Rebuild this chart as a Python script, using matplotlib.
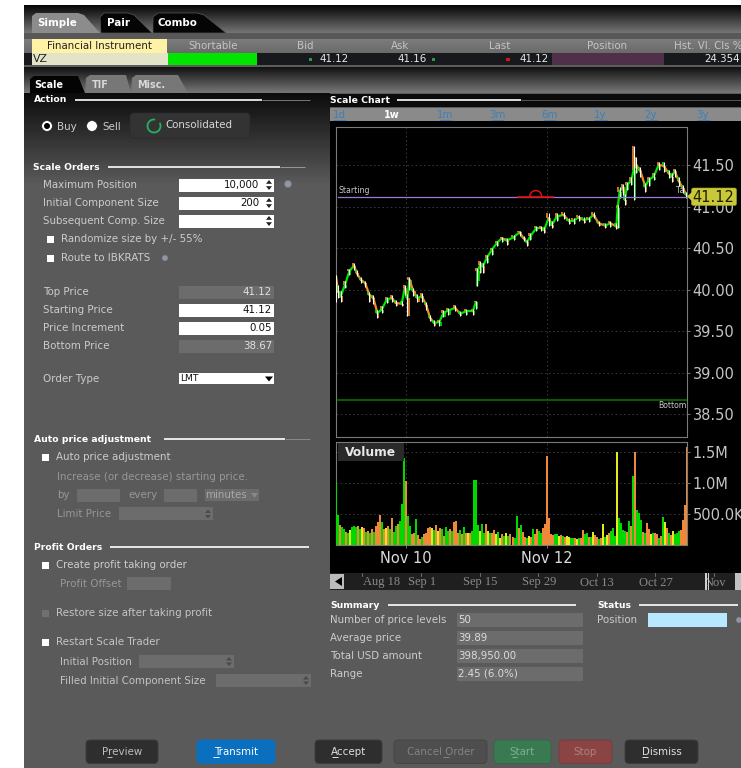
import numpy as np
import matplotlib
matplotlib.use("Agg")
import matplotlib.pyplot as plt
from matplotlib.patches import Rectangle, FancyBboxPatch, Polygon, Circle, Arc
from matplotlib.colors import LinearSegmentedColormap

# ---------- data ----------
price_days = [9.000,9.029,9.067,9.128,9.190,9.257,9.295,9.352,9.414,9.475,9.532,9.589,9.651,9.722,9.794,9.851,9.936,9.979,
 10.017,10.046,10.103,10.160,10.222,10.283,10.340,10.397,10.473,10.530,10.602,10.697,10.768,10.854,10.949,10.992,
 11.011,11.015,11.053,11.091,11.148,11.220,11.291,11.362,11.434,11.529,11.614,11.671,11.719,11.766,11.852,11.918,11.966,
 12.028,12.075,12.146,12.241,12.313,12.384,12.455,12.527,12.598,12.669,12.741,12.836,12.907,12.993,
 13.012,13.040,13.088,13.116,13.145,13.206,13.240,13.278,13.335,13.406,13.454,13.525,13.596,13.667,13.739,13.786,13.824,13.881,13.943,13.990]
price_close = [40.16,39.98,39.92,40.06,40.22,40.29,40.20,40.12,40.08,39.94,39.90,39.72,39.76,39.88,39.90,39.84,39.83,40.02,
 39.90,40.12,39.98,39.90,39.92,39.82,39.66,39.60,39.61,39.72,39.75,39.78,39.71,39.74,39.74,39.85,
 40.05,40.22,40.30,40.28,40.38,40.48,40.56,40.62,40.59,40.63,40.69,40.62,40.57,40.64,40.74,40.74,40.72,
 40.86,40.78,40.88,40.90,40.83,40.83,40.87,40.84,40.85,40.90,40.80,40.77,40.80,40.76,
 40.98,41.18,41.24,41.08,41.26,41.31,41.44,41.50,41.43,41.24,41.32,41.36,41.50,41.49,41.40,41.36,41.43,41.31,41.22,41.14]
price_high = [40.18,40.05,39.98,40.10,40.25,40.32,40.24,40.15,40.10,39.97,39.94,39.76,39.80,39.91,39.93,39.87,39.86,40.05,
 39.95,40.15,40.02,39.95,39.96,39.85,39.69,39.63,39.64,39.75,39.78,39.81,39.74,39.77,39.77,39.86,
 40.10,40.26,40.34,40.32,40.42,40.50,40.58,40.63,40.62,40.66,40.70,40.65,40.60,40.68,40.77,40.77,40.75,
 40.92,40.82,40.92,40.93,40.86,40.86,40.90,40.87,40.88,40.93,40.83,40.80,40.83,40.80,
 41.02,41.23,41.27,41.15,41.30,41.36,41.73,41.60,41.47,41.28,41.35,41.40,41.53,41.53,41.44,41.40,41.45,41.35,41.26,41.18]
price_low = [39.85,39.90,39.85,40.02,40.18,40.24,40.16,40.08,40.03,39.85,39.83,39.66,39.72,39.84,39.85,39.80,39.80,39.94,
 39.68,40.00,39.92,39.85,39.85,39.76,39.62,39.56,39.56,39.67,39.70,39.74,39.68,39.70,39.70,39.77,
 40.04,40.10,40.20,40.20,40.32,40.42,40.52,40.57,40.54,40.60,40.64,40.58,40.52,40.60,40.70,40.70,40.68,
 40.76,40.74,40.82,40.85,40.79,40.79,40.82,40.80,40.81,40.86,40.76,40.74,40.75,40.73,
 40.74,41.10,41.14,41.02,41.20,41.26,41.08,41.40,41.36,41.18,41.25,41.32,41.44,41.42,41.34,41.30,41.36,41.25,41.16,41.10]

volume_k = [1000,480,320,290,250,210,190,240,290,300,
 290,300,250,290,280,210,230,190,250,210,
 300,370,480,370,260,280,300,260,430,210,
 300,340,390,660,1390,1020,465,300,180,190,
 410,160,100,130,170,190,270,290,280,240,
 320,220,280,260,150,290,220,260,230,370,
 380,200,240,180,290,190,190,200,220,1040,
 1040,320,220,340,190,340,220,200,200,240,
 180,210,120,170,140,200,150,170,130,110,
 465,280,320,210,130,120,150,130,260,180,
 260,230,200,270,340,1430,430,170,160,180,
 170,150,160,150,130,150,130,120,110,110,
 100,110,120,240,170,190,130,130,210,160,
 130,90,120,330,130,160,190,230,270,140,
 1490,430,360,240,220,210,380,300,1100,1500,
 560,520,400,210,190,350,250,180,200,190,
 180,120,140,450,370,280,200,160,230,180,
 190,230,240,400,640,1580]
volume_kind = ("ggoggogygg" "gogyogogog" "ooogoyogog" "gogggoggoo" "googooooyg"
               "oyogoggogo" "oogogoyogg" "ggyggoygoo" "ygyogygoog" "gogoogyogo"
               "oggoooooog" "gyogoyyggo" "ygooggogyo" "ogoygyoggg" "yggggogogo"
               "gggogooygo" "ogogyogoyg" "ggoooo")

price_ticks = [38.5, 39.0, 39.5, 40.0, 40.5, 41.0, 41.5]
price_tick_labels = ["38.50", "39.00", "39.50", "40.00", "40.50", "41.00", "41.50"]
vol_ticks = [500, 1000, 1500]
vol_tick_labels = ["500.0K", "1.0M", "1.5M"]
day_ticks = [10, 12]
day_labels = ["Nov 10", "Nov 12"]
starting_price = 41.12
bottom_price = 38.67

periods = ["1d", "1w", "1m", "3m", "6m", "1y", "2y", "3y"]
nav_labels = ["Aug 18", "Sep 1", "Sep 15", "Sep 29", "Oct 13", "Oct 27", "Nov"]
header_cols = ["Shortable", "Bid", "Ask", "Last", "Position", "Hst. Vl. Cls %"]

# ---------- helpers ----------
W, H = 741, 768
fig = plt.figure(figsize=(W/100, H/100), dpi=100, facecolor="white")
ui = fig.add_axes([0, 0, 1, 1], zorder=0)
ui.set_xlim(0, W); ui.set_ylim(H, 0); ui.axis("off"); ui.set_autoscale_on(False)

BODY = "#5a5a5a"; LBL = "#cccccc"; DIM = "#979797"; FIELD = "#6c6c6c"; FS = 7.4

def R(x0, y0, x1, y1, c, z=1, **k):
    ui.add_patch(Rectangle((x0, y0), x1-x0, y1-y0, fc=c, ec=k.pop("ec", "none"), lw=k.pop("lw", 0), zorder=z, **k))

def G(x0, y0, x1, y1, c0, c1, z=1):
    cm = LinearSegmentedColormap.from_list("g", [c0, c1])
    ui.imshow(np.linspace(0, 1, 64)[:, None], extent=(x0, x1, y1, y0), cmap=cm, aspect="auto", zorder=z, vmin=0, vmax=1)

def T(x, y, s, size=FS, c=LBL, ha="left", w="normal", fam="DejaVu Sans", z=6, **k):
    return ui.text(x, y, s, fontsize=size, color=c, ha=ha, va="center", weight=w, family=fam, zorder=z, **k)

def L(x0, x1, y, c="white", lw=1.0, z=4):
    ui.plot([x0, x1], [y, y], color=c, lw=lw, zorder=z, solid_capstyle="butt")

def spinner(x, y):
    ui.add_patch(Polygon([[x-3, y-1.2], [x+3, y-1.2], [x, y-5]], fc="#222", zorder=6))
    ui.add_patch(Polygon([[x-3, y+1.2], [x+3, y+1.2], [x, y+5]], fc="#222", zorder=6))

def spinner_dim(x, y):
    ui.add_patch(Polygon([[x-3, y-1], [x+3, y-1], [x, y-4.5]], fc="#4a4a4a", zorder=6))
    ui.add_patch(Polygon([[x-3, y+1], [x+3, y+1], [x, y+4.5]], fc="#4a4a4a", zorder=6))

def check(x, y, c="white"):
    R(x-3.5, y-3.5, x+3.5, y+3.5, c, z=5)

def dot(x, y, r=3.6, c="#8d97a5"):
    ui.add_patch(Circle((x, y), r, fc=c, ec="#6d6d6d", lw=0.4, zorder=6))

def button(x0, x1, c, label, tc, ul=None, ec="#3c3c3c", y0=740, y1=763.5):
    ui.add_patch(FancyBboxPatch((x0+3, y0+3), x1-x0-6, y1-y0-6, boxstyle="round,pad=3,rounding_size=4", fc=c, ec=ec, lw=0.6, zorder=3))
    T((x0+x1)/2, 752, label, c=tc, ha="center")
    if ul:
        L(ul[0], ul[1], 756.8, c=tc, lw=0.7, z=6)

# ---------- panel background ----------
R(24, 5, W, H, BODY, z=0.5)
G(24, 5, W, 33, "#050505", "#757575")
R(24, 33, W, 39, "#585858")
G(24, 66, W, 93, "#0e0e0e", "#777777")
G(24, 93, 330, 185, "#0c0c0c", BODY)

# top tabs
ui.add_patch(Polygon([[32, 33], [32, 16], [36, 13], [78, 13], [84, 15], [100, 33]], fc="#8c8c8c", zorder=2))
ui.add_patch(Polygon([[101, 33], [100, 17], [104, 13], [128, 13], [134, 15], [152, 33]], fc="#050505", ec="#555", lw=0.5, zorder=2))
ui.add_patch(Polygon([[153, 33], [153, 17], [158, 13], [197, 13], [204, 15], [226, 33]], fc="#050505", ec="#555", lw=0.5, zorder=2))
T(37, 23, "Simple", size=7.4, w="bold", c="white")
T(107, 23, "Pair", size=7.4, w="bold", c="white")
T(158, 23, "Combo", size=7.4, w="bold", c="white")

# instrument table
G(24, 39, W, 53, "#7c7c7c", "#6a6a6a", z=1.2)
R(32, 39, 167, 53, "#fdf2a6", z=2)
T(99.5, 46, "Financial Instrument", c="#222", ha="center")
col_x = [213, 305, 400, 500, 607, 708]
for x, s in zip(col_x, header_cols):
    T(x, 46, s, ha="center", c="#c4c4c4")
R(24, 53, W, 65, "#17191c", z=2)
R(24, 65, W, 66.5, "#5c5c5c", z=2)
R(32, 53, 168, 65, "#e3e3c8", z=3)
R(168, 53, 257, 65, "#00e400", z=3)
R(552, 53, 664, 65, "#4f3048", z=3)
T(33, 59.5, "VZ", c="#222", size=7.8)
for x, s in zip([349, 427, 549, 740], ["41.12", "41.16", "41.12", "24.354"]):
    T(x, 59.5, s, c="#e8e8e8", ha="right")
R(309, 58, 312, 61, "#2f9a4a", z=5); R(432, 58, 435, 61, "#2f9a4a", z=5); R(506, 58, 510, 61, "#d01818", z=5)

# order tabs
ui.add_patch(Polygon([[30, 93], [30, 79], [34, 76], [78, 76], [85, 93]], fc="#040404", zorder=2))
ui.add_patch(Polygon([[85, 93], [86, 78], [90, 75], [126, 75], [131, 93]], fc="#777777", zorder=2))
ui.add_patch(Polygon([[131, 93], [132, 78], [136, 75], [178, 75], [188, 93]], fc="#777777", zorder=2))
T(34, 85, "Scale", size=6.9, w="bold", c="white")
T(92, 85, "TIF", size=6.9, w="bold", c="#d8d8d8")
T(137, 85, "Misc.", size=6.9, w="bold", c="#d8d8d8")

def section(x, y, s, lx0, lx1):
    T(x, y, s, size=6.7, w="bold", c="white")
    L(lx0, lx1, y, lw=1.2)

# left column
section(34, 100, "Action", 75, 262); L(262, 310, 100, c="#777", lw=0.7)
ui.add_patch(Circle((47, 126), 5.4, fc="white", ec="#222", lw=0.5, zorder=5))
ui.add_patch(Circle((47, 126), 3.0, fc="black", zorder=6))
T(57, 126.5, "Buy")
ui.add_patch(Circle((92, 126), 5.4, fc="white", ec="#222", lw=0.5, zorder=5))
T(102, 126.5, "Sell")
ui.add_patch(FancyBboxPatch((133, 116), 114, 19, boxstyle="round,pad=3,rounding_size=4", fc="#333333", ec="#2a2a2a", lw=0.5, zorder=3))
ui.add_patch(Arc((154, 126), 13, 13, theta1=-30, theta2=280, color="#28b060", lw=1.3, zorder=5))
T(165, 125.5, "Consolidated", c="#d8d8d8")

section(33, 167, "Scale Orders", 108, 280); L(280, 305, 167, c="#999", lw=0.7)
for y, s in [(185, "Maximum Position"), (203, "Initial Component Size"), (221, "Subsequent Comp. Size")]:
    T(43, y, s)
for y, v in [(185, "10,000"), (203, "200"), (221, "")]:
    R(179, y-6.5, 274, y+6.5, "white", z=3)
    T(259, y, v, c="#111", ha="right")
    spinner(269, y)
dot(288, 184)
check(50, 239); T(61, 239, "Randomize size by +/- 55%")
check(50, 258); T(61, 258, "Route to IBKRATS"); dot(165, 258, r=3)

fields = [(292, "Top Price", "41.12", FIELD, "#e0e0e0"), (310, "Starting Price", "41.12", "white", "#111"),
          (328, "Price Increment", "0.05", "white", "#111"), (346, "Bottom Price", "38.67", FIELD, "#e0e0e0")]
for y, s, v, fc, tc in fields:
    T(43, y, s)
    R(179, y-6.5, 274, y+6.5, fc, z=3)
    T(272, y, v, c=tc, ha="right")
T(43, 379, "Order Type")
R(179, 373, 274, 384, "white", z=3)
T(180, 378.5, "LMT", c="#111", size=6.6)
ui.add_patch(Polygon([[265, 376.5], [273, 376.5], [269, 381.5]], fc="black", zorder=6))

section(34, 439, "Auto price adjustment", 164, 285); L(285, 310, 439, c="#888", lw=0.7)
check(45, 457); T(56, 457, "Auto price adjustment")
T(57, 477, "Increase (or decrease) starting price.", c=DIM)
T(57, 495.5, "by", c=DIM); R(77, 489, 120, 502, FIELD, z=3)
T(128, 495.5, "every", c=DIM); R(164, 489, 197, 502, FIELD, z=3)
R(205, 489, 259, 501, FIELD, z=3); T(205, 494.5, "minutes", c="#a8a8a8")
ui.add_patch(Polygon([[251, 493], [258, 493], [254.5, 498]], fc="#888", zorder=6))
T(57, 514, "Limit Price", c=DIM); R(119, 507, 213, 520, FIELD, z=3); spinner_dim(208, 514)

section(34, 547, "Profit Orders", 110, 309)
check(45, 565); T(56, 565, "Create profit taking order")
T(60, 584, "Profit Offset", c=DIM); R(127, 577, 171, 590, FIELD, z=3)
check(45, 613, c="#707070"); T(56, 613, "Restore size after taking profit", c="#c4c4c4")
check(45, 642); T(56, 642, "Restart Scale Trader", c="#c4c4c4")
T(60, 662, "Initial Position", c="#c4c4c4"); R(139, 655, 234, 668, FIELD, z=3); spinner_dim(229, 661.5)
T(60, 681, "Filled Initial Component Size", c="#c4c4c4"); R(216, 674, 311, 687, FIELD, z=3); spinner_dim(306, 680.5)

# bottom buttons
button(86, 158, "#2e2e2e", "Preview", "#bdbdbd", ul=(107, 112))
button(197, 275, "#0a6fbe", "Transmit", "white", ul=(213, 219), ec="#0a6fbe")
button(315, 382, "#2e2e2e", "Accept", "#e0e0e0", ul=(332, 338))
button(394, 487, "#4e4e4e", "Cancel Order", "#828282", ul=(443, 449), ec="#444444")
button(494, 551, "#3a7a50", "Start", "#7fb094", ul=(512, 517), ec="#33664a")
button(559, 612, "#8a4444", "Stop", "#b08282", ec="#773a3a")
button(625, 698, "#2e2e2e", "Dismiss", "#e0e0e0", ul=(642, 648))

# chart column
R(330, 94, W, 107, "#0b0b0b", z=2)
T(330, 100.5, "Scale Chart", size=6.7, w="bold", c="white")
L(397, 521, 100, lw=1.2, z=5); L(521, 741, 100, c="#555", lw=0.7, z=5)
R(330, 108, W, 121, "#8a8a8a", z=2)
for x, s in zip([339, 392, 445, 497, 549, 600, 651, 703], periods):
    if s == "1w":
        T(x, 115, s, c="white", w="bold", ha="center", size=7)
    else:
        T(x, 115, s, c="#3f7fb8", ha="center", size=7.4)
        L(x-6.5, x+6.5, 120, c="#3f7fb8", lw=0.7, z=6)
R(330, 121, W, 573, "black", z=2)

# navigator
R(330, 573, W, 589.5, "#1f1f1f", z=2)
R(330, 574, 344, 589, "#bcbcbc", z=3)
ui.add_patch(Polygon([[335, 581.5], [342, 577], [342, 586]], fc="black", zorder=5))
for x, s in zip([382, 422, 480, 539, 597, 656, 715], nav_labels):
    T(x, 582.5, s, fam="Liberation Serif", size=9, c="#8b8b8b", ha="center")
for x in [362, 421, 480, 538, 597, 655, 714]:
    ui.plot([x, x], [573, 576], color="#777", lw=0.6, zorder=5)
R(705, 573, 706.5, 590, "#d0d0d0", z=6); R(707.5, 573, 708.5, 590, "#d0d0d0", z=6)
R(735, 573, 741, 590, "#c0c0c0", z=6)

# summary
T(330, 605, "Summary", size=6.7, w="bold", c="white"); L(388, 576, 605, lw=1.2)
T(597, 605, "Status", size=6.7, w="bold", c="white"); L(639, 738, 605, lw=1.2)
for y, s, v in [(620, "Number of price levels", "50"), (638, "Average price", "39.89"),
                (656, "Total USD amount", "398,950.00"), (674, "Range", "2.45 (6.0%)")]:
    T(330, y, s)
    R(457, y-7, 583, y+7, FIELD, z=3)
    T(458, y, v, c="#dcdcdc")
T(597, 620, "Position")
R(648, 613, 727, 627, "#b8e8ff", z=3)
dot(739, 620, r=3)

# ---------- price chart ----------
ax = fig.add_axes([336/W, 1-437/H, (687-336)/W, (437-127)/H], zorder=5, facecolor="none")
ax.set_xlim(9.0, 14.0); ax.set_ylim(38.227, 41.957)
ax.set_yticks(price_ticks); ax.set_yticklabels(price_tick_labels)
ax.yaxis.tick_right(); ax.set_xticks(day_ticks); ax.set_xticklabels([])
ax.tick_params(axis="y", colors="#c4c4c4", labelsize=10.5, length=2, width=0.6, pad=2, color="#888")
ax.tick_params(axis="x", length=0)
ax.grid(True, color="#3f3f3f", lw=0.6, ls=(0, (2, 3)))
ax.set_axisbelow(True)
for s in ax.spines.values():
    s.set_color("#7a7a7a"); s.set_linewidth(0.8)

days = np.array(price_days); closes = np.array(price_close)
highs = np.array(price_high); lows = np.array(price_low)
step = 0.016
for i in range(1, len(days)):
    if i == 34:
        continue
    col = "#00e400" if closes[i] >= closes[i-1] else "#f28a2e"
    ax.plot(days[i-1:i+1], closes[i-1:i+1], color=col, lw=1.6, zorder=4, solid_capstyle="round")
    other = "#f28a2e" if col == "#00e400" else "#00e400"
    ax.vlines(days[i]-step, closes[i], highs[i], color=other, lw=1.2, zorder=4)
    ax.vlines(days[i]+step, lows[i], closes[i], color=col, lw=1.2, zorder=4)
ax.vlines(days, lows, highs, color="white", lw=0.8, zorder=5)
ax.plot([9.03, 14], [starting_price]*2, color="#9a78d8", lw=0.9, zorder=6)
ax.plot([11.59, 12.09], [starting_price]*2, color="#e01010", lw=1.2, zorder=7)
ax.add_patch(Arc((11.845, starting_price), 0.17, 0.145, theta1=0, theta2=180, color="#e01010", lw=1.1, zorder=7))
ax.plot([9.03, 14], [bottom_price]*2, color="#007000", lw=1.2, zorder=5)
ax.text(9.035, 41.135, "Starting", color="#c8c8c8", fontsize=5.6, va="bottom")
ax.text(14.0, 38.655, "Bottom", color="#c8c8c8", fontsize=5.6, va="top", ha="right")
ax.text(13.84, 41.135, "Ta", color="#c8c8c8", fontsize=5.6, va="bottom", clip_on=True)

# last price tag
tag = fig.add_axes([0, 0, 1, 1], zorder=7, facecolor="none")
tag.set_xlim(0, W); tag.set_ylim(H, 0); tag.axis("off")
tag.add_patch(FancyBboxPatch((693, 189.5), 42, 14.5, boxstyle="round,pad=1.5,rounding_size=2", fc="#c8c83a", ec="#a0a020", lw=0.4))
tag.add_patch(Polygon([[687, 196.5], [692, 192], [692, 201]], fc="#c8c83a"))
tag.text(713, 197, "41.12", fontsize=10.5, color="#1e1e00", ha="center", va="center")

# ---------- volume chart ----------
av = fig.add_axes([336/W, 1-545/H, (687-336)/W, (545-441.7)/H], zorder=5, facecolor="none")
vol_days = np.linspace(9.0, 14.0, len(volume_k))
palette = {"g": "#00d800", "o": "#f0883a", "y": "#e8e820"}
av.bar(vol_days, volume_k, width=(vol_days[1]-vol_days[0]), color=[palette[k] for k in volume_kind], zorder=3, lw=0)
av.set_xlim(9.0, 14.0); av.set_ylim(0, 1658)
av.yaxis.tick_right(); av.set_yticks(vol_ticks); av.set_yticklabels(vol_tick_labels)
av.set_xticks(day_ticks); av.set_xticklabels(day_labels)
av.tick_params(axis="y", colors="#c4c4c4", labelsize=10.5, length=2, width=0.6, pad=2, color="#888")
av.tick_params(axis="x", colors="#dcdcdc", labelsize=10.5, length=2, width=0.6, pad=2, color="#888")
av.grid(True, color="#3f3f3f", lw=0.6, ls=(0, (2, 3)))
av.set_axisbelow(True)
for s in av.spines.values():
    s.set_color("#7a7a7a"); s.set_linewidth(0.8)
tag.add_patch(Rectangle((338, 443), 66, 18, fc="#2a2a2a", ec="none"))
tag.text(345, 452.5, "Volume", fontsize=8.8, weight="bold", color="#e8e8e8", va="center")

fig.savefig("out.png", dpi=100, facecolor="white")
